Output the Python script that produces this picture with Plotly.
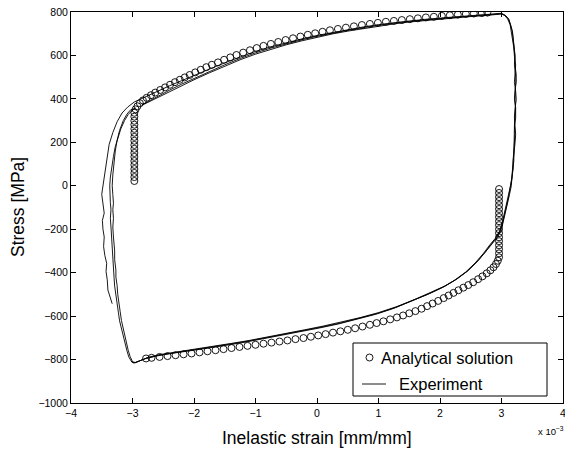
import plotly.graph_objects as go

# ---------------- data (strain in units of 1e-3 mm/mm, stress in MPa) ----------------
ana_top_strain = [-2.97, -2.97, -2.97, -2.97, -2.97, -2.97, -2.97, -2.97, -2.97, -2.97,
                  -2.97, -2.97, -2.97, -2.97, -2.97, -2.97, -2.97, -2.97,
                  -2.95, -2.92, -2.88, -2.83, -2.77, -2.70, -2.63, -2.55, -2.47, -2.39,
                  -2.31, -2.23, -2.15, -2.07, -1.98, -1.89, -1.80, -1.71, -1.61, -1.51,
                  -1.41, -1.31, -1.20, -1.09, -0.98, -0.87, -0.75, -0.63, -0.51, -0.39,
                  -0.27, -0.15, -0.03, 0.09, 0.21, 0.34, 0.47, 0.60, 0.73, 0.86,
                  0.99, 1.12, 1.25, 1.38, 1.51, 1.64, 1.77, 1.90, 2.03, 2.16,
                  2.29, 2.42, 2.55, 2.68, 2.77]
ana_top_stress = [22, 40, 59, 77, 96, 114, 133, 151, 170, 188,
                  207, 225, 244, 262, 281, 299, 318, 336,
                  352, 366, 380, 393, 405, 417, 429, 441, 453, 465,
                  477, 488, 499, 510, 522, 534, 546, 557, 568, 580,
                  591, 602, 613, 624, 634, 644, 653, 662, 671, 679,
                  687, 695, 702, 709, 716, 722, 728, 734, 740, 745,
                  750, 755, 759, 763, 767, 771, 775, 778, 782, 785,
                  788, 791, 793, 795, 797]

ana_bot_strain = [2.96, 2.96, 2.96, 2.96, 2.96, 2.96, 2.96, 2.96, 2.96, 2.96,
                  2.96, 2.96, 2.96, 2.96, 2.96, 2.96, 2.96, 2.96,
                  2.94, 2.91, 2.87, 2.82, 2.76, 2.69, 2.62, 2.54, 2.46, 2.38,
                  2.30, 2.22, 2.14, 2.06, 1.97, 1.88, 1.79, 1.70, 1.60, 1.50,
                  1.40, 1.30, 1.19, 1.08, 0.97, 0.86, 0.74, 0.62, 0.50, 0.38,
                  0.26, 0.14, 0.02, -0.10, -0.22, -0.35, -0.48, -0.61, -0.74, -0.87,
                  -1.00, -1.13, -1.26, -1.39, -1.52, -1.65, -1.78, -1.91, -2.04, -2.17,
                  -2.30, -2.43, -2.56, -2.69, -2.78]
ana_bot_stress = [-15, -33, -52, -70, -89, -107, -126, -144, -163, -181,
                  -200, -218, -237, -255, -274, -292, -311, -329,
                  -345, -360, -375, -389, -403, -417, -430, -444, -457, -469,
                  -481, -493, -505, -517, -530, -542, -554, -566, -577, -587,
                  -597, -606, -615, -624, -632, -640, -648, -656, -663, -670,
                  -676, -683, -689, -695, -701, -706, -712, -717, -722, -727,
                  -732, -737, -742, -747, -752, -757, -762, -767, -772, -776,
                  -780, -784, -788, -792, -795]

# experiment, cycle 1: outer left rise, top, right, bottom, inner left rise
exp_c1_strain = [-3.33, -3.36, -3.40, -3.41, -3.43, -3.42, -3.45, -3.47, -3.46, -3.48,
                 -3.49, -3.46, -3.48, -3.50, -3.49, -3.47, -3.45, -3.42, -3.38, -3.32,
                 -3.25, -3.17, -3.08, -2.97,
                 -2.88, -2.75, -2.60, -2.40, -2.20, -2.00, -1.75, -1.50, -1.25, -1.00,
                 -0.75, -0.50, -0.25, 0.00, 0.25, 0.50, 0.75, 1.00, 1.25, 1.50,
                 1.75, 2.00, 2.25, 2.50, 2.75, 2.92, 3.00,
                 3.06, 3.11, 3.14, 3.17, 3.19, 3.21, 3.22, 3.21, 3.23, 3.24,
                 3.22, 3.21, 3.23, 3.22, 3.21, 3.22, 3.21, 3.20, 3.20, 3.19,
                 3.18, 3.16, 3.13, 3.10, 3.07, 3.03, 3.00, 2.94, 2.86, 2.76,
                 2.62, 2.46, 2.28, 2.09, 1.85, 1.60, 1.30, 1.00, 0.70, 0.40,
                 0.10, -0.20, -0.50, -0.80, -1.10, -1.40, -1.70, -2.00, -2.30, -2.55,
                 -2.75, -2.89, -2.95,
                 -3.00, -3.04, -3.07, -3.11, -3.15, -3.18, -3.20, -3.22, -3.24, -3.25,
                 -3.27, -3.27, -3.29, -3.29, -3.31, -3.31, -3.32, -3.31, -3.32, -3.31,
                 -3.32, -3.33, -3.32, -3.30, -3.28, -3.25, -3.21, -3.15, -3.09, -3.03,
                 -2.95]
exp_c1_stress = [-543, -515, -480, -433, -395, -357, -320, -280, -236, -200,
                 -160, -126, -80, -40, -19, 20, 72, 130, 190, 245,
                 295, 335, 362, 386,
                 398, 415, 435, 460, 484, 506, 537, 566, 594, 619,
                 640, 659, 676, 692, 706, 719, 731, 742, 751, 759,
                 766, 772, 778, 783, 788, 792, 794,
                 785, 770, 745, 715, 680, 640, 600, 560, 520, 480,
                 440, 400, 360, 320, 280, 240, 200, 160, 120, 80,
                 40, 0, -40, -80, -120, -165, -200, -235, -262, -300,
                 -345, -390, -428, -460, -492, -522, -556, -584, -607, -628,
                 -646, -663, -680, -697, -712, -726, -740, -752, -765, -777,
                 -790, -808, -814,
                 -810, -785, -757, -710, -665, -620, -580, -543, -500, -460,
                 -420, -388, -340, -300, -260, -236, -190, -150, -110, -80,
                 -40, 0, 50, 110, 160, 210, 255, 300, 330, 350,
                 357]

# experiment, cycle 2: top, right, bottom, inner left rise
exp_c2_strain = [-2.85, -2.72, -2.58, -2.40, -2.20, -2.00, -1.75, -1.50, -1.25, -1.00,
                 -0.75, -0.50, -0.25, 0.00, 0.25, 0.50, 0.75, 1.00, 1.25, 1.50,
                 1.75, 2.00, 2.25, 2.50, 2.75, 2.92, 3.00,
                 3.05, 3.10, 3.14, 3.16, 3.18, 3.20, 3.21, 3.23, 3.22, 3.21,
                 3.23, 3.24, 3.22, 3.21, 3.22, 3.23, 3.22, 3.20, 3.19, 3.19,
                 3.17, 3.15, 3.12, 3.09, 3.06, 3.02, 2.98, 2.92, 2.84, 2.74,
                 2.60, 2.44, 2.26, 2.07, 1.83, 1.58, 1.28, 0.98, 0.68, 0.38,
                 0.08, -0.22, -0.52, -0.82, -1.12, -1.42, -1.72, -2.02, -2.32, -2.57,
                 -2.77, -2.90, -2.96,
                 -3.01, -3.06, -3.09, -3.13, -3.17, -3.21, -3.23, -3.25, -3.27, -3.29,
                 -3.30, -3.31, -3.32, -3.33, -3.34, -3.35, -3.35, -3.36, -3.35, -3.36,
                 -3.37, -3.37, -3.36, -3.34, -3.31, -3.28, -3.24, -3.19, -3.13, -3.07,
                 -3.01, -2.95]
exp_c2_stress = [372, 392, 414, 440, 468, 494, 526, 557, 586, 612,
                 634, 654, 672, 688, 703, 716, 728, 739, 749, 757,
                 764, 770, 776, 781, 786, 790, 792,
                 784, 768, 742, 712, 676, 636, 596, 556, 516, 476,
                 436, 396, 356, 316, 276, 236, 196, 156, 116, 76,
                 36, -4, -44, -84, -124, -168, -205, -238, -266, -304,
                 -350, -394, -432, -464, -496, -526, -560, -588, -611, -632,
                 -650, -667, -684, -700, -715, -729, -743, -756, -768, -780,
                 -793, -810, -815,
                 -812, -788, -760, -714, -668, -622, -582, -545, -503, -462,
                 -422, -385, -342, -300, -262, -232, -190, -150, -110, -78,
                 -40, 0, 40, 90, 135, 180, 222, 262, 300, 328,
                 346, 358]

# experiment, cycle 3: top, right, bottom
exp_c3_strain = [-2.85, -2.72, -2.58, -2.40, -2.20, -2.00, -1.75, -1.50, -1.25, -1.00,
                 -0.75, -0.50, -0.25, 0.00, 0.25, 0.50, 0.75, 1.00, 1.25, 1.50,
                 1.75, 2.00, 2.25, 2.50, 2.75, 2.92, 3.00,
                 3.07, 3.12, 3.15, 3.18, 3.19, 3.21, 3.22, 3.22, 3.24, 3.23,
                 3.22, 3.22, 3.23, 3.23, 3.21, 3.21, 3.21, 3.21, 3.20, 3.18,
                 3.17, 3.14, 3.11, 3.08, 3.05, 3.01, 2.97, 2.90, 2.81, 2.71,
                 2.57, 2.41, 2.23, 2.04, 1.80, 1.55, 1.25, 0.95, 0.65, 0.35,
                 0.05, -0.25, -0.55, -0.85, -1.15, -1.45, -1.75, -2.05, -2.35, -2.60,
                 -2.80, -2.92, -2.98, -3.02]
exp_c3_stress = [370, 388, 409, 435, 462, 488, 520, 551, 580, 606,
                 629, 649, 667, 684, 699, 712, 724, 735, 745, 754,
                 761, 768, 774, 779, 784, 789, 791,
                 783, 766, 740, 708, 672, 632, 592, 552, 512, 472,
                 432, 392, 352, 312, 272, 232, 192, 152, 112, 72,
                 32, -8, -48, -88, -128, -172, -208, -242, -272, -310,
                 -356, -399, -436, -468, -500, -530, -564, -592, -615, -636,
                 -654, -671, -688, -704, -719, -733, -747, -759, -771, -783,
                 -797, -812, -816, -808]

x_ticks = [-4, -3, -2, -1, 0, 1, 2, 3, 4]
y_ticks = [-1000, -800, -600, -400, -200, 0, 200, 400, 600, 800]

legend_labels = ["Analytical solution", "Experiment"]
x_title = "Inelastic strain [mm/mm]"
y_title = "Stress [MPa]"

# ---------------- figure ----------------
W, H = 565, 451
L, R, T, B = 71, 2, 12, 48
PW, PH = W - L - R, H - T - B


def px(x):
    return (x - L) / PW


def py(y):
    return (H - B - y) / PH


FONT = "Liberation Sans, Arial, Helvetica, sans-serif"
LINE = dict(color="black", width=0.9)

fig = go.Figure()
for xs, ys in [(exp_c1_strain, exp_c1_stress), (exp_c2_strain, exp_c2_stress),
               (exp_c3_strain, exp_c3_stress)]:
    fig.add_trace(go.Scatter(x=xs, y=ys, mode="lines", line=LINE,
                             showlegend=False, hoverinfo="skip"))
for xs, ys in [(ana_top_strain, ana_top_stress), (ana_bot_strain, ana_bot_stress)]:
    fig.add_trace(go.Scatter(x=xs, y=ys, mode="markers",
                             marker=dict(symbol="circle-open", size=7,
                                         color="black", line=dict(width=0.9)),
                             showlegend=False, hoverinfo="skip"))

axis_common = dict(showgrid=False, zeroline=False, showline=True, linecolor="black",
                   linewidth=1, mirror="ticks", ticks="inside", ticklen=5,
                   tickcolor="black", tickwidth=1, automargin=False,
                   ticklabeloverflow="allow",
                   tickfont=dict(family=FONT, size=10.5, color="black"))
fig.update_xaxes(range=[-4, 4], tickvals=x_ticks, **axis_common)
fig.update_yaxes(range=[-1000, 800], tickvals=y_ticks, **axis_common)

shapes = [
    dict(type="rect", xref="paper", yref="paper", x0=px(353), x1=px(547),
         y0=py(396), y1=py(343), line=dict(color="black", width=1),
         fillcolor="white", layer="above"),
    dict(type="circle", xref="paper", yref="paper", x0=px(366), x1=px(373),
         y0=py(361), y1=py(354), line=dict(color="black", width=0.9), layer="above"),
    dict(type="line", xref="paper", yref="paper", x0=px(362), x1=px(386),
         y0=py(384), y1=py(384), line=dict(color="black", width=0.9), layer="above"),
]
annotations = [
    dict(text=legend_labels[0], xref="paper", yref="paper", x=px(379), y=py(358),
         xanchor="left", yanchor="middle", showarrow=False,
         font=dict(family=FONT, size=16.5, color="black")),
    dict(text=legend_labels[1], xref="paper", yref="paper", x=px(397), y=py(384),
         xanchor="left", yanchor="middle", showarrow=False,
         font=dict(family=FONT, size=16.5, color="black")),
    dict(text=x_title, xref="paper", yref="paper", x=px(317), y=py(438),
         xanchor="center", yanchor="middle", showarrow=False,
         font=dict(family=FONT, size=17.5, color="black")),
    dict(text=y_title, xref="paper", yref="paper", x=px(18), y=py(207),
         xanchor="center", yanchor="middle", showarrow=False, textangle=-90,
         font=dict(family=FONT, size=17.5, color="black")),
    dict(text="x 10<sup>−3</sup>", xref="paper", yref="paper", x=px(551), y=py(431),
         xanchor="center", yanchor="middle", showarrow=False,
         font=dict(family=FONT, size=9.5, color="black")),
]

fig.update_layout(width=W, height=H, margin=dict(l=L, r=R, t=T, b=B, pad=0),
                  paper_bgcolor="white", plot_bgcolor="white", autosize=False,
                  shapes=shapes, annotations=annotations, showlegend=False)

post = ("document.body.style.margin='0';document.body.style.padding='0';"
        "document.body.style.overflow='hidden';"
        "var gd=document.getElementById('{plot_id}');"
        "gd.style.width='565px';gd.style.height='451px';"
        "Plotly.relayout(gd,{width:565,height:451});")

fig.write_html("out.html", config={"responsive": False, "displayModeBar": False},
               post_script=post)
